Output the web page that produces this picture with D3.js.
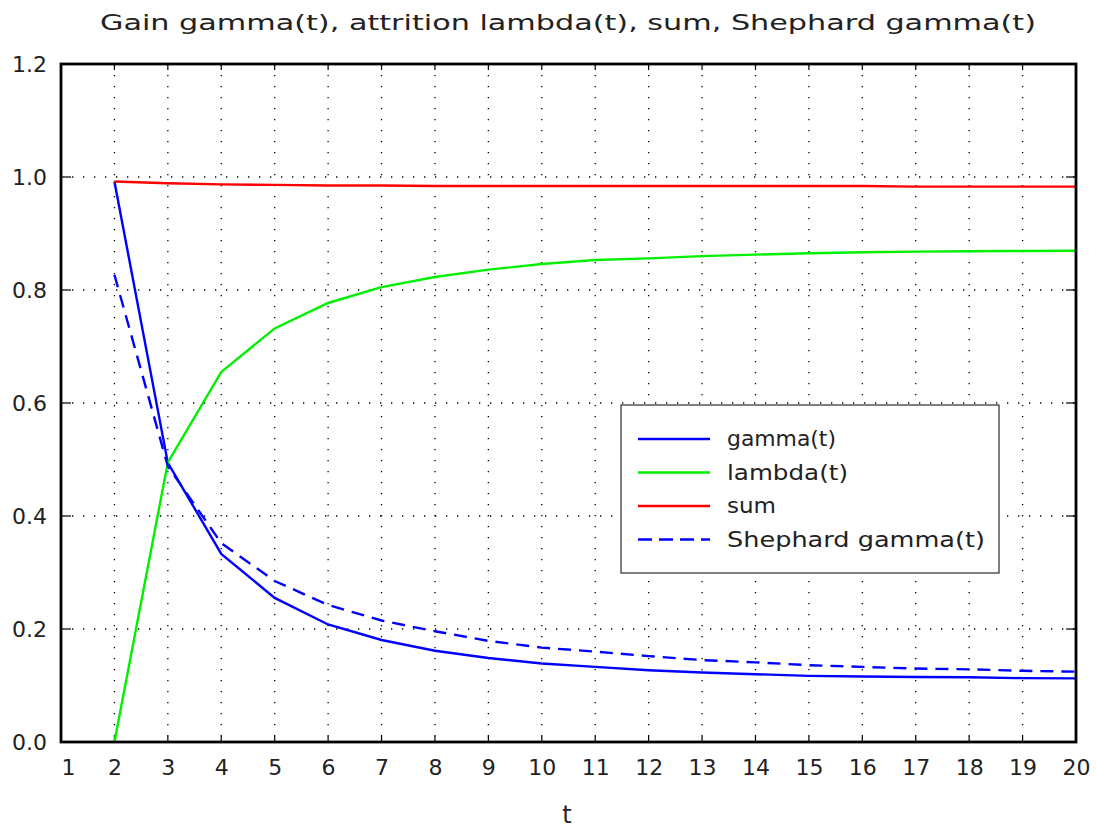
<!DOCTYPE html>
<html>
<head>
<meta charset="utf-8">
<script src="https://cdn.jsdelivr.net/npm/d3@7"></script>
<style>
  body { margin: 0; background: #fff; }
  svg text { font-family: "DejaVu Sans", sans-serif; fill: #222; }
</style>
</head>
<body>
<div id="chart"></div>
<script>
// data
const tValues = [2, 3, 4, 5, 6, 7, 8, 9, 10, 11, 12, 13, 14, 15, 16, 17, 18, 19, 20];
const gammaValues = [0.992, 0.494, 0.333, 0.255, 0.208, 0.1805, 0.1616, 0.1487, 0.139, 0.133,
  0.127, 0.123, 0.120, 0.117, 0.116, 0.115, 0.1145, 0.113, 0.1127];
const lambdaValues = [0.0, 0.495, 0.655, 0.732, 0.777, 0.805, 0.823, 0.836, 0.846, 0.853,
  0.856, 0.860, 0.8626, 0.865, 0.8667, 0.868, 0.8685, 0.869, 0.8696];
const sumValues = [0.992, 0.989, 0.987, 0.986, 0.985, 0.985, 0.984, 0.984, 0.984, 0.984,
  0.984, 0.984, 0.984, 0.984, 0.984, 0.983, 0.983, 0.983, 0.983];
const shephardValues = [0.827, 0.488, 0.352, 0.285, 0.2425, 0.215, 0.196, 0.179, 0.167, 0.160,
  0.152, 0.145, 0.141, 0.136, 0.133, 0.130, 0.1286, 0.126, 0.1245];
const xTicks = d3.range(1, 21);
const yTicks = [0, 0.2, 0.4, 0.6, 0.8, 1.0, 1.2];

const seriesInfo = [
  { name: "gamma(t)", values: gammaValues, color: "#0000ff", dash: null, textLen: 109 },
  { name: "lambda(t)", values: lambdaValues, color: "#00f000", dash: null, textLen: 121 },
  { name: "sum", values: sumValues, color: "#ff0000", dash: null, textLen: 49 },
  { name: "Shephard gamma(t)", values: shephardValues, color: "#0000ff", dash: "13,8", textLen: 258 }
];

const width = 1096, height = 828;
const margin = { left: 61, right: 20, top: 64, bottom: 86 };

const svg = d3.select("#chart")
  .append("svg")
  .attr("width", width)
  .attr("height", height);

const x = d3.scaleLinear().domain([1, 20]).range([margin.left, width - margin.right]);
const y = d3.scaleLinear().domain([0, 1.2]).range([height - margin.bottom, margin.top]);

// title
svg.append("text")
  .attr("x", 568)
  .attr("y", 30)
  .attr("text-anchor", "middle")
  .style("font-size", "22px")
  .attr("textLength", 936)
  .attr("lengthAdjust", "spacingAndGlyphs")
  .text("Gain gamma(t), attrition lambda(t), sum, Shephard gamma(t)");

// dotted grid
const grid = svg.append("g");
grid.selectAll(".vgrid")
  .data(xTicks.slice(1, -1))
  .enter().append("line")
  .attr("x1", d => x(d)).attr("x2", d => x(d))
  .attr("y1", y(1.2)).attr("y2", y(0))
  .attr("stroke", "#000")
  .attr("stroke-width", 1.3)
  .attr("stroke-dasharray", "1.3,9.7");
grid.selectAll(".hgrid")
  .data(yTicks.slice(1, -1))
  .enter().append("line")
  .attr("x1", x(1)).attr("x2", x(20))
  .attr("y1", d => y(d)).attr("y2", d => y(d))
  .attr("stroke", "#000")
  .attr("stroke-width", 1.3)
  .attr("stroke-dasharray", "1.3,9.7");

// axes, labels only (ticks drawn inward below)
svg.append("g")
  .attr("transform", `translate(0,${y(0)})`)
  .call(d3.axisBottom(x).tickValues(xTicks).tickSize(0).tickPadding(17).tickFormat(d3.format("d")))
  .call(g => g.select(".domain").remove())
  .call(g => g.selectAll("text").style("font-size", "22px").attr("fill", "#222")
    .attr("dx", d => d === 1 ? 7 : 0));

svg.append("g")
  .attr("transform", `translate(${margin.left},0)`)
  .call(d3.axisLeft(y).tickValues(yTicks).tickSize(0).tickPadding(14).tickFormat(d3.format(".1f")))
  .call(g => g.select(".domain").remove())
  .call(g => g.selectAll("text").style("font-size", "22px").attr("fill", "#222"));

const tickG = svg.append("g").attr("stroke", "#000").attr("stroke-width", 1.2);
yTicks.forEach(v => {
  tickG.append("line").attr("x1", x(1)).attr("x2", x(1) + 10).attr("y1", y(v)).attr("y2", y(v));
  tickG.append("line").attr("x1", x(20)).attr("x2", x(20) - 10).attr("y1", y(v)).attr("y2", y(v));
});
xTicks.forEach(v => {
  tickG.append("line").attr("x1", x(v)).attr("x2", x(v)).attr("y1", y(1.2)).attr("y2", y(1.2) + 6);
  tickG.append("line").attr("x1", x(v)).attr("x2", x(v)).attr("y1", y(0)).attr("y2", y(0) - 6);
});

// axis label
svg.append("text")
  .attr("x", 567)
  .attr("y", 823)
  .attr("text-anchor", "middle")
  .style("font-size", "24px")
  .text("t");

// series lines
const line = d3.line()
  .x((d, i) => x(tValues[i]))
  .y(d => y(d));

svg.append("g").selectAll(".series")
  .data(seriesInfo)
  .enter().append("path")
  .attr("d", d => line(d.values))
  .attr("fill", "none")
  .attr("stroke", d => d.color)
  .attr("stroke-width", 2.4)
  .attr("stroke-dasharray", d => d.dash);

// plot frame
svg.append("rect")
  .attr("x", x(1))
  .attr("y", y(1.2))
  .attr("width", x(20) - x(1))
  .attr("height", y(0) - y(1.2))
  .attr("fill", "none")
  .attr("stroke", "#000")
  .attr("stroke-width", 2.8);

// legend
const legend = svg.append("g").attr("transform", "translate(621,405)");
legend.append("rect")
  .attr("width", 378)
  .attr("height", 168)
  .attr("fill", "#fff")
  .attr("stroke", "#000")
  .attr("stroke-width", 1);

const items = legend.selectAll(".legend-item")
  .data(seriesInfo)
  .enter().append("g")
  .attr("transform", (d, i) => `translate(0,${34 + i * 33.5})`);

items.append("line")
  .attr("x1", 17).attr("x2", 89)
  .attr("stroke", d => d.color)
  .attr("stroke-width", 2.4)
  .attr("stroke-dasharray", d => d.dash ? "14,7" : null);

items.append("text")
  .attr("x", 106)
  .attr("dy", "0.35em")
  .style("font-size", "21px")
  .attr("textLength", d => d.textLen)
  .attr("lengthAdjust", "spacingAndGlyphs")
  .text(d => d.name);
</script>
</body>
</html>
